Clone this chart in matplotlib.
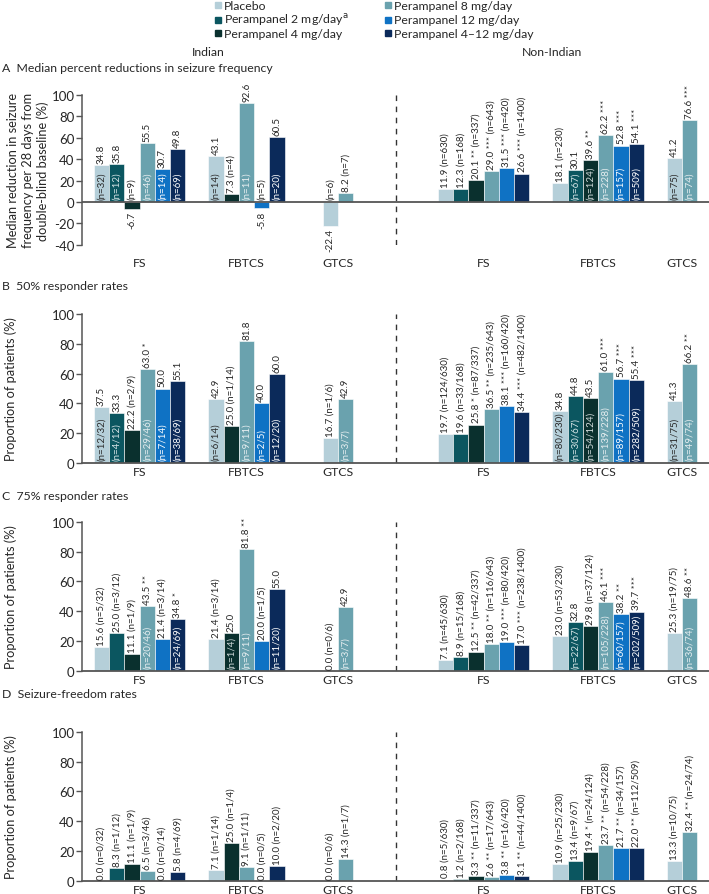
import matplotlib
matplotlib.use('Agg')
import matplotlib.pyplot as plt
from matplotlib.patches import Rectangle

plt.rcParams['font.family'] = ['Lato', 'DejaVu Sans']
plt.rcParams['axes.unicode_minus'] = False

W, H = 709, 895

# ---------------- data ----------------
treatments = ['Placebo', 'Perampanel 2 mg/day', 'Perampanel 4 mg/day',
              'Perampanel 8 mg/day', 'Perampanel 12 mg/day', 'Perampanel 4\u201312 mg/day']
subtypes = ['FS', 'FBTCS', 'GTCS']
regions = ['Indian', 'Non-Indian']
colors = ['#b5cfd9', '#0b5660', '#0a302e', '#6aa2ae', '#0f72c4', '#0b2a5a']
inside_text_colors = ['#2b2b2b', '#d5e4e6', '#d0dada', '#e6eef0', '#ffffff', '#ffffff']

N = None
# Panel A: median percent reduction
A_ind_vals = [[34.8, 35.8, -6.7, 55.5, 30.7, 49.8],
              [43.1, N, 7.3, 92.6, -5.8, 60.5],
              [-22.4, N, N, 8.2, N, N]]
A_ind_n = [['32', '12', '9', '46', '14', '69'],
           ['14', N, '4', '11', '5', '20'],
           ['6', N, N, '7', N, N]]
A_ind_sig = [['', '', '', '', '', ''], ['', '', '', '', '', ''], ['', '', '', '', '', '']]
A_non_vals = [[11.9, 12.3, 20.1, 29.0, 31.5, 26.6],
              [18.1, 30.1, 39.6, 62.2, 52.8, 54.1],
              [41.2, N, N, 76.6, N, N]]
A_non_n = [['630', '168', '337', '643', '420', '1400'],
           ['230', '67', '124', '228', '157', '509'],
           ['75', N, N, '74', N, N]]
A_non_sig = [['', '', '**', '***', '***', '***'],
             ['', '', '**', '***', '***', '***'],
             ['', '', '', '***', '', '']]

# Panel B: 50% responder rates
B_ind_vals = [[37.5, 33.3, 22.2, 63.0, 50.0, 55.1],
              [42.9, N, 25.0, 81.8, 40.0, 60.0],
              [16.7, N, N, 42.9, N, N]]
B_ind_n = [['12/32', '4/12', '2/9', '29/46', '7/14', '38/69'],
           ['6/14', N, '1/14', '9/11', '2/5', '12/20'],
           ['1/6', N, N, '3/7', N, N]]
B_ind_sig = [['', '', '', '*', '', ''], ['', '', '', '', '', ''], ['', '', '', '', '', '']]
B_non_vals = [[19.7, 19.6, 25.8, 36.5, 38.1, 34.4],
              [34.8, 44.8, 43.5, 61.0, 56.7, 55.4],
              [41.3, N, N, 66.2, N, N]]
B_non_n = [['124/630', '33/168', '87/337', '235/643', '160/420', '482/1400'],
           ['80/230', '30/67', '54/124', '139/228', '89/157', '282/509'],
           ['31/75', N, N, '49/74', N, N]]
B_non_sig = [['', '', '*', '**', '***', '***'],
             ['', '', '', '***', '***', '***'],
             ['', '', '', '**', '', '']]

# Panel C: 75% responder rates
C_ind_vals = [[15.6, 25.0, 11.1, 43.5, 21.4, 34.8],
              [21.4, N, 25.0, 81.8, 20.0, 55.0],
              [0.0, N, N, 42.9, N, N]]
C_ind_n = [['5/32', '3/12', '1/9', '20/46', '3/14', '24/69'],
           ['3/14', N, '1/4', '9/11', '1/5', '11/20'],
           ['0/6', N, N, '3/7', N, N]]
C_ind_sig = [['', '', '', '**', '', '*'], ['', '', '', '**', '', ''], ['', '', '', '', '', '']]
C_non_vals = [[7.1, 8.9, 12.5, 18.0, 19.0, 17.0],
              [23.0, 32.8, 29.8, 46.1, 38.2, 39.7],
              [25.3, N, N, 48.6, N, N]]
C_non_n = [['45/630', '15/168', '42/337', '116/643', '80/420', '238/1400'],
           ['53/230', '22/67', '37/124', '105/228', '60/157', '202/509'],
           ['19/75', N, N, '36/74', N, N]]
C_non_sig = [['', '', '**', '**', '***', '***'],
             ['', '', '', '***', '**', '***'],
             ['', '', '', '**', '', '']]

# Panel D: seizure-freedom rates
D_ind_vals = [[0.0, 8.3, 11.1, 6.5, 0.0, 5.8],
              [7.1, N, 25.0, 9.1, 0.0, 10.0],
              [0.0, N, N, 14.3, N, N]]
D_ind_n = [['0/32', '1/12', '1/9', '3/46', '0/14', '4/69'],
           ['1/14', N, '1/4', '1/11', '0/5', '2/20'],
           ['0/6', N, N, '1/7', N, N]]
D_ind_sig = [['', '', '', '', '', ''], ['', '', '', '', '', ''], ['', '', '', '', '', '']]
D_non_vals = [[0.8, 1.2, 3.3, 2.6, 3.8, 3.1],
              [10.9, 13.4, 19.4, 23.7, 21.7, 22.0],
              [13.3, N, N, 32.4, N, N]]
D_non_n = [['5/630', '2/168', '11/337', '17/643', '16/420', '44/1400'],
           ['25/230', '9/67', '24/124', '54/228', '34/157', '112/509'],
           ['10/75', N, N, '24/74', N, N]]
D_non_sig = [['', '', '**', '**', '**', '**'],
             ['', '', '*', '**', '**', '**'],
             ['', '', '', '**', '', '']]

panel_titles = ['A  Median percent reductions in seizure frequency',
                'B  50% responder rates',
                'C  75% responder rates',
                'D  Seizure-freedom rates']
ylabels = ['Median reduction in seizure\nfrequency per 28 days from\ndouble-blind baseline (%)',
           'Proportion of patients (%)', 'Proportion of patients (%)', 'Proportion of patients (%)']

# ---------------- layout (pixels) ----------------
# where the n-label sits inside the bar (1) or follows the value above (0)
A_ind_in = [[1, 1, 0, 1, 1, 1], [1, 0, 0, 1, 0, 1], [0, 0, 0, 0, 0, 0]]
A_non_in = [[0, 0, 0, 0, 0, 0], [0, 1, 1, 1, 1, 1], [1, 0, 0, 1, 0, 0]]
B_ind_in = [[1, 1, 0, 1, 1, 1], [1, 0, 0, 1, 1, 1], [0, 0, 0, 1, 0, 0]]
B_non_in = [[0, 0, 0, 0, 0, 0], [1, 1, 1, 1, 1, 1], [1, 0, 0, 1, 0, 0]]
C_ind_in = [[0, 0, 0, 1, 0, 1], [0, 0, 1, 1, 0, 1], [0, 0, 0, 1, 0, 0]]
C_non_in = [[0, 0, 0, 0, 0, 0], [0, 1, 0, 1, 1, 1], [0, 0, 0, 1, 0, 0]]
D_ind_in = [[0] * 6, [0] * 6, [0] * 6]
D_non_in = [[0] * 6, [0] * 6, [0] * 6]

IND_CENTERS = [139.5, 246.5, 338.0]
NON_CENTERS = [483.5, 598.2, 682.0]
BAR_W = 15.25
DASH_X = 395.7
AX_LEFT, AX_RIGHT = 82, 709
# (pixel y of top, pixel y of bottom, ymin)
PANEL_PX = [(96, 245.8, -40), (315, 464, 0), (522.7, 671.7, 0), (732.7, 881.7, 0)]
TITLE_Y = [69, 287, 497, 695]

TXT = '#262626'
AXC = '#555555'
LBL_FS = 7.0

fig = plt.figure(figsize=(W / 100, H / 100), dpi=100)


def fx(px):
    return px / W


def fy(py):
    return 1 - py / H


def draw_group(ax, center, vals, ns, sigs, inside):
    present = [k for k, v in enumerate(vals) if v is not None]
    x0 = center - len(present) * BAR_W / 2
    for j, k in enumerate(present):
        x = x0 + (j + 0.5) * BAR_W
        v = vals[k]
        ax.bar(x, v, width=BAR_W, color=colors[k], edgecolor='white', linewidth=0.4, zorder=2)
        vs = f'{v:.1f}' + (' ' + sigs[k] if sigs[k] else '')
        nt = f'(n={ns[k]})'
        kw = dict(textcoords='offset points', rotation=90, ha='center', fontsize=LBL_FS, zorder=4)
        if v < 0:
            ax.annotate(vs, (x, v), xytext=(0, -1.5), va='top', color=TXT, **kw)
            ax.annotate(nt, (x, 0), xytext=(0, 2), va='bottom', color=TXT, **kw)
        elif inside[k]:
            ax.annotate(vs, (x, v), xytext=(0, 1.5), va='bottom', color=TXT, **kw)
            ax.annotate(nt, (x, 0), xytext=(0, 2), va='bottom', color=inside_text_colors[k], **kw)
        else:
            ax.annotate(vs + ' ' + nt, (x, v), xytext=(0, 1.5), va='bottom', color=TXT, **kw)


panels = [
    (A_ind_vals, A_ind_n, A_ind_sig, A_ind_in, A_non_vals, A_non_n, A_non_sig, A_non_in),
    (B_ind_vals, B_ind_n, B_ind_sig, B_ind_in, B_non_vals, B_non_n, B_non_sig, B_non_in),
    (C_ind_vals, C_ind_n, C_ind_sig, C_ind_in, C_non_vals, C_non_n, C_non_sig, C_non_in),
    (D_ind_vals, D_ind_n, D_ind_sig, D_ind_in, D_non_vals, D_non_n, D_non_sig, D_non_in),
]

for p, (iv, inn, isg, iin, nv, nn, nsg, nin) in enumerate(panels):
    top, bot, ymin = PANEL_PX[p]
    ax = fig.add_axes([fx(AX_LEFT), fy(bot), (AX_RIGHT - AX_LEFT) / W, (bot - top) / H])
    ax.set_xlim(AX_LEFT, AX_RIGHT)
    ax.set_ylim(ymin, 100)
    for g in range(3):
        draw_group(ax, IND_CENTERS[g], iv[g], inn[g], isg[g], iin[g])
        draw_group(ax, NON_CENTERS[g], nv[g], nn[g], nsg[g], nin[g])
    ax.axvline(DASH_X, color='#333333', lw=1.0, ls=(0, (4, 4)), zorder=1)
    for s in ['top', 'right']:
        ax.spines[s].set_visible(False)
    ax.spines['left'].set_color(AXC)
    ax.spines['left'].set_linewidth(1.1)
    if ymin < 0:
        ax.spines['bottom'].set_visible(False)
        ax.axhline(0, color=AXC, lw=1.3, zorder=3)
        xpad = 8.5
    else:
        ax.spines['bottom'].set_color(AXC)
        ax.spines['bottom'].set_linewidth(1.3)
        ax.spines['bottom'].set_zorder(3)
        xpad = 2.5
    ax.set_yticks(range(ymin, 101, 20))
    ax.tick_params(axis='y', length=4, width=1.0, color=AXC, labelsize=9.5, pad=1.5, labelcolor=TXT)
    ax.set_xticks(IND_CENTERS + NON_CENTERS, subtypes + subtypes)
    ax.tick_params(axis='x', length=0, labelsize=8.8, pad=xpad, labelcolor=TXT)
    ax.patch.set_alpha(0)
    # title and y label
    fig.text(fx(2), fy(TITLE_Y[p]), panel_titles[p], fontsize=8.8, color=TXT, va='center', ha='left')
    if p == 0:
        fig.text(fx(28), fy((top + bot) / 2), ylabels[p], rotation=90, fontsize=9.2, color=TXT,
                 ha='center', va='center', multialignment='center', linespacing=1.3)
    else:
        fig.text(fx(11), fy((top + bot) / 2), ylabels[p], rotation=90, fontsize=9.2, color=TXT,
                 ha='center', va='center')

# region headers
fig.text(fx(208), fy(52), regions[0], fontsize=8.8, color=TXT, ha='center', va='center')
fig.text(fx(552), fy(52), regions[1], fontsize=8.8, color=TXT, ha='center', va='center')

# legend (manual)
LEG_COLS = [218, 388]
LEG_ROWS = [6, 20.5, 34]
SQ = 6
legend_labels = [treatments[0], treatments[1] + '$^{\\mathrm{a}}$', treatments[2],
                 treatments[3], treatments[4], treatments[5]]
for k in range(6):
    cx = LEG_COLS[k // 3]
    cy = LEG_ROWS[k % 3]
    fig.patches.append(Rectangle((fx(cx - SQ / 2), fy(cy + SQ / 2)), SQ / W, SQ / H,
                                 transform=fig.transFigure, color=colors[k], figure=fig))
    fig.text(fx(cx + 6), fy(cy), legend_labels[k], fontsize=8.8, color=TXT, ha='left', va='center')

fig.savefig('out.png', dpi=100)
